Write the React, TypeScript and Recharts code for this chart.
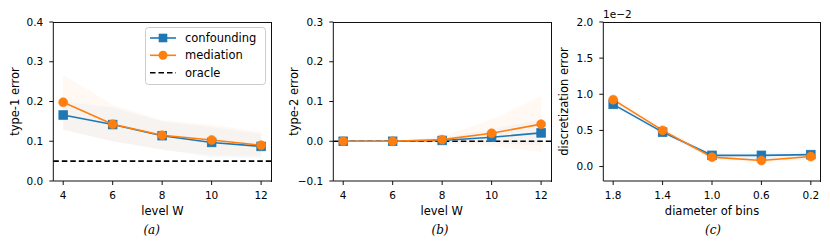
import React from "react";
import {
  ComposedChart,
  Line,
  Area,
  XAxis,
  YAxis,
  ReferenceLine,
} from "recharts";

// ---------- data ----------
const levelW = [4, 6, 8, 10, 12];

const type1Confounding = [0.166, 0.142, 0.114, 0.097, 0.087];
const type1Mediation = [0.198, 0.143, 0.115, 0.103, 0.09];
const type1ConfLow = [0.13, 0.1, 0.08, 0.06, 0.058];
const type1ConfHigh = [0.2, 0.185, 0.15, 0.135, 0.118];
const type1MedLow = [0.128, 0.1, 0.078, 0.065, 0.063];
const type1MedHigh = [0.267, 0.191, 0.153, 0.141, 0.124];

const type2Confounding = [0.0, 0.0, 0.002, 0.01, 0.021];
const type2Mediation = [0.0, 0.0, 0.004, 0.02, 0.043];
const type2ConfLow = [0.0, 0.0, -0.003, -0.005, -0.01];
const type2ConfHigh = [0.0, 0.0, 0.008, 0.03, 0.055];
const type2MedLow = [0.0, 0.0, -0.005, -0.012, -0.027];
const type2MedHigh = [0.0, 0.0, 0.012, 0.055, 0.113];

const binDiameter = [1.8, 1.4, 1.0, 0.6, 0.2];
const discConfounding = [0.0086, 0.00476, 0.00155, 0.00155, 0.00165];
const discMediation = [0.00925, 0.005, 0.0013, 0.00083, 0.00138];
const discConfLow = [0.0082, 0.0044, 0.0012, 0.0009, 0.0009];
const discConfHigh = [0.009, 0.0051, 0.0019, 0.002, 0.0021];
const discMedLow = [0.0088, 0.0046, 0.001, 0.0005, 0.001];
const discMedHigh = [0.0097, 0.0054, 0.0016, 0.0012, 0.0017];

const oracleType1 = 0.05;
const oracleType2 = 0.0;

const type1Ticks = [0, 0.1, 0.2, 0.3, 0.4];
const type2Ticks = [-0.1, 0, 0.1, 0.2, 0.3];
const discTicks = [0, 0.005, 0.01, 0.015, 0.02];
const diameterTicks = [1.8, 1.4, 1.0, 0.6, 0.2];

// ---------- style / layout ----------
const BLUE = "#1f77b4";
const ORANGE = "#ff7f0e";
const FONT = "'DejaVu Sans', sans-serif";
const TICK_FS = 10.5;
const LABEL_FS = 11.5;
const SPINE = "#111";
const CHART_H = 243;
const M_TOP = 22;
const X_AXIS_H = 62;

const LAYOUT = [
  { left: 0, width: 281, marginLeft: 53.3, marginRight: 10 },
  { left: 280, width: 281, marginLeft: 53.3, marginRight: 10 },
  { left: 555, width: 275, marginLeft: 48.3, marginRight: 9.3 },
];

function buildRows(
  xs: number[],
  conf: number[],
  med: number[],
  cl: number[],
  ch: number[],
  ml: number[],
  mh: number[]
) {
  return xs.map((x, i) => ({
    x,
    conf: conf[i],
    med: med[i],
    confBand: [cl[i], ch[i]],
    medBand: [ml[i], mh[i]],
  }));
}

const rowsA = buildRows(levelW, type1Confounding, type1Mediation, type1ConfLow, type1ConfHigh, type1MedLow, type1MedHigh);
const rowsB = buildRows(levelW, type2Confounding, type2Mediation, type2ConfLow, type2ConfHigh, type2MedLow, type2MedHigh);
const rowsC = buildRows(binDiameter, discConfounding, discMediation, discConfLow, discConfHigh, discMedLow, discMedHigh);

const fmt1 = (v: number) => {
  const s = Math.abs(v) < 1e-12 ? "0.0" : Math.abs(v).toFixed(1);
  return v < -1e-12 ? "\u2212" + s : s;
};
const fmtDisc = (v: number) => fmt1(v * 100);

const SquareDot = (props: any) => {
  const { cx, cy, index } = props;
  if (cx == null || cy == null) return <g key={"s" + index} />;
  const s = 8.6;
  return (
    <rect
      key={"s" + index}
      x={cx - s / 2}
      y={cy - s / 2}
      width={s}
      height={s}
      fill={BLUE}
      stroke={BLUE}
      strokeWidth={0.8}
    />
  );
};

const CircleDot = (props: any) => {
  const { cx, cy, index } = props;
  if (cx == null || cy == null) return <g key={"c" + index} />;
  return <circle key={"c" + index} cx={cx} cy={cy} r={4.5} fill={ORANGE} stroke={ORANGE} strokeWidth={0.6} />;
};

type PanelProps = {
  layout: { left: number; width: number; marginLeft: number; marginRight: number };
  rows: any[];
  xDomain: [number, number];
  xTicks: number[];
  xFormat?: (v: number) => string;
  reversed?: boolean;
  yDomain: [number, number];
  yTicks: number[];
  yFormat: (v: number) => string;
  oracle?: number;
};

function Panel(p: PanelProps) {
  const L = p.layout;
  const tickStyle = { fontSize: TICK_FS, fill: "#000", fontFamily: FONT };
  return (
    <div style={{ position: "absolute", left: L.left, top: 0 }}>
      <ComposedChart
        width={L.width}
        height={CHART_H}
        data={p.rows}
        margin={{ top: M_TOP, right: L.marginRight, bottom: 0, left: 0 }}
        style={{ fontFamily: FONT }}
      >
        <XAxis
          dataKey="x"
          type="number"
          domain={p.xDomain}
          ticks={p.xTicks}
          reversed={p.reversed}
          allowDataOverflow
          tickFormatter={p.xFormat}
          tick={tickStyle}
          tickSize={4}
          tickMargin={7}
          height={X_AXIS_H}
          stroke={SPINE}
          tickLine={{ stroke: SPINE }}
          axisLine={{ stroke: SPINE, strokeWidth: 1 }}
          interval={0}
        />
        <YAxis
          type="number"
          domain={p.yDomain}
          ticks={p.yTicks}
          allowDataOverflow
          tickFormatter={p.yFormat}
          tick={tickStyle}
          tickSize={4}
          tickMargin={6}
          width={L.marginLeft}
          stroke={SPINE}
          tickLine={{ stroke: SPINE }}
          axisLine={{ stroke: SPINE, strokeWidth: 1 }}
          interval={0}
        />
        <Area
          type="linear"
          dataKey="confBand"
          stroke="none"
          fill={BLUE}
          fillOpacity={0.04}
          isAnimationActive={false}
          dot={false}
          activeDot={false}
        />
        <Area
          type="linear"
          dataKey="medBand"
          stroke="none"
          fill={ORANGE}
          fillOpacity={0.05}
          isAnimationActive={false}
          dot={false}
          activeDot={false}
        />
        {p.oracle !== undefined && (
          <ReferenceLine y={p.oracle} stroke="#000" strokeWidth={1.6} strokeDasharray="5.5 3" />
        )}
        <Line
          type="linear"
          dataKey="conf"
          stroke={BLUE}
          strokeWidth={1.6}
          dot={<SquareDot />}
          activeDot={false}
          isAnimationActive={false}
        />
        <Line
          type="linear"
          dataKey="med"
          stroke={ORANGE}
          strokeWidth={1.6}
          dot={<CircleDot />}
          activeDot={false}
          isAnimationActive={false}
        />
      </ComposedChart>
    </div>
  );
}

function Frames() {
  const plotBottom = CHART_H - X_AXIS_H;
  return (
    <>
      {LAYOUT.map((L, i) => {
        const x0 = Math.floor(L.left + L.marginLeft);
        const x1 = Math.floor(L.left + L.width - L.marginRight);
        return (
          <React.Fragment key={"f" + i}>
            <div
              style={{
                position: "absolute",
                left: x0,
                top: M_TOP,
                width: x1 - x0 + 1,
                height: 1,
                background: SPINE,
                zIndex: 6,
              }}
            />
            <div
              style={{
                position: "absolute",
                left: x1,
                top: M_TOP,
                width: 1,
                height: plotBottom - M_TOP + 1,
                background: SPINE,
                zIndex: 6,
              }}
            />
          </React.Fragment>
        );
      })}
    </>
  );
}

function Overlay() {
  const label = { fontFamily: FONT, fontSize: LABEL_FS, fill: "#000" } as const;
  const cap = { fontFamily: "'DejaVu Serif', serif", fontStyle: "italic", fontSize: 12, fill: "#000" } as const;
  return (
    <svg
      width={830}
      height={243}
      style={{ position: "absolute", left: 0, top: 0, pointerEvents: "none", zIndex: 5 }}
    >
      {/* x labels */}
      <text x={162.5} y={215} textAnchor="middle" {...label}>level W</text>
      <text x={441.7} y={215} textAnchor="middle" {...label}>level W</text>
      <text x={712} y={215} textAnchor="middle" {...label}>diameter of bins</text>
      {/* y labels */}
      <text transform="translate(14.7,101.5) rotate(-90)" textAnchor="middle" dominantBaseline="central" {...label}>type-1 error</text>
      <text transform="translate(294,101.5) rotate(-90)" textAnchor="middle" dominantBaseline="central" {...label}>type-2 error</text>
      <text transform="translate(564,101.5) rotate(-90)" textAnchor="middle" dominantBaseline="central" {...label}>discretization error</text>
      {/* offset text */}
      <text x={603} y={18.3} fontFamily={FONT} fontSize={TICK_FS} fill="#000">{"1e\u22122"}</text>
      {/* captions */}
      <text x={151.7} y={234} textAnchor="middle" {...cap}>(a)</text>
      <text x={440} y={234} textAnchor="middle" {...cap}>(b)</text>
      <text x={713} y={234} textAnchor="middle" {...cap}>(c)</text>
      {/* legend */}
      <g>
        <rect x={145.5} y={27.5} width={120} height={57} rx={3} ry={3} fill="#fff" fillOpacity={0.8} stroke="#ccc" strokeWidth={1} />
        <line x1={150} y1={38} x2={176} y2={38} stroke={BLUE} strokeWidth={1.6} />
        <rect x={163 - 4.3} y={38 - 4.3} width={8.6} height={8.6} fill={BLUE} />
        <text x={185} y={38} dominantBaseline="central" fontFamily={FONT} fontSize={LABEL_FS} fill="#000">confounding</text>
        <line x1={150} y1={55.3} x2={176} y2={55.3} stroke={ORANGE} strokeWidth={1.6} />
        <circle cx={163} cy={55.3} r={4.5} fill={ORANGE} />
        <text x={185} y={55.3} dominantBaseline="central" fontFamily={FONT} fontSize={LABEL_FS} fill="#000">mediation</text>
        <line x1={150} y1={72.7} x2={176} y2={72.7} stroke="#000" strokeWidth={1.6} strokeDasharray="5.5 3" />
        <text x={185} y={72.7} dominantBaseline="central" fontFamily={FONT} fontSize={LABEL_FS} fill="#000">oracle</text>
      </g>
    </svg>
  );
}

export default function App() {
  return (
    <div style={{ position: "absolute", left: 0, top: 0, width: 830, height: 243, background: "#fff" }}>
      <Panel
        layout={LAYOUT[0]}
        rows={rowsA}
        xDomain={[3.6, 12.4]}
        xTicks={levelW}
        yDomain={[0, 0.4]}
        yTicks={type1Ticks}
        yFormat={fmt1}
        oracle={oracleType1}
      />
      <Panel
        layout={LAYOUT[1]}
        rows={rowsB}
        xDomain={[3.6, 12.4]}
        xTicks={levelW}
        yDomain={[-0.1, 0.3]}
        yTicks={type2Ticks}
        yFormat={fmt1}
        oracle={oracleType2}
      />
      <Panel
        layout={LAYOUT[2]}
        rows={rowsC}
        xDomain={[0.12, 1.88]}
        xTicks={diameterTicks}
        xFormat={(v: number) => v.toFixed(1)}
        reversed
        yDomain={[-0.002, 0.02]}
        yTicks={discTicks}
        yFormat={fmtDisc}
      />
      <Overlay />
      <Frames />
    </div>
  );
}
